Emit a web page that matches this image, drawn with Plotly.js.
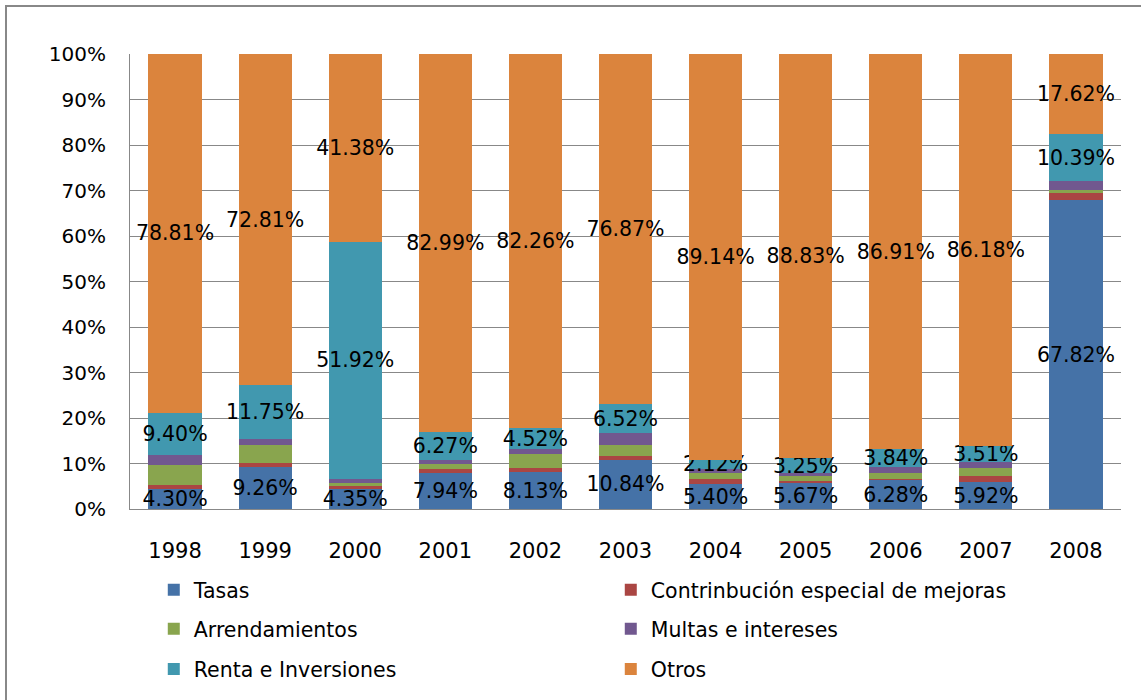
<!DOCTYPE html>
<html>
<head>
<meta charset="utf-8">
<script src="https://cdn.plot.ly/plotly-3.0.1.min.js"></script>
<style>
  body { margin: 0; background: #fff; }
  #chart { position: absolute; left: 0; top: 0; width: 1141px; height: 700px; }
  #frame { position: absolute; left: 5px; top: 5px; width: 1200px; height: 760px;
           border: 2px solid #888; pointer-events: none; }
</style>
</head>
<body>
<div id="chart"></div>
<div id="frame"></div>
<script>
// years and share of each income source (%)
const years = ['1998', '1999', '2000', '2001', '2002', '2003', '2004', '2005', '2006', '2007', '2008'];

const tasas          = [4.30, 9.26, 4.35, 7.94, 8.13, 10.84, 5.40, 5.67, 6.28, 5.92, 67.82];
const contribucion   = [0.90, 0.85, 0.70, 0.80, 0.85, 0.85, 1.25, 0.50, 0.28, 1.33, 1.60];
const arrendamientos = [4.50, 4.00, 0.75, 1.20, 3.10, 2.46, 1.20, 1.05, 1.27, 1.78, 0.80];
const multas         = [2.09, 1.33, 0.90, 0.80, 1.14, 2.46, 0.89, 0.70, 1.42, 1.28, 1.77];
const renta          = [9.40, 11.75, 51.92, 6.27, 4.52, 6.52, 2.12, 3.25, 3.84, 3.51, 10.39];
const otros          = [78.81, 72.81, 41.38, 82.99, 82.26, 76.87, 89.14, 88.83, 86.91, 86.18, 17.62];

const font = 'DejaVu Sans, sans-serif';

function series(name, values, color, legend, labelled) {
    const t = {
        type: 'bar',
        name: name,
        x: years,
        y: values,
        marker: {color: color},
        legend: legend,
        cliponaxis: false,
        hoverinfo: 'skip'
    };
    if (labelled) {
        t.texttemplate = '%{y:.2f}%';
        t.textposition = 'inside';
        t.insidetextanchor = 'middle';
        t.constraintext = 'none';
        t.textangle = 0;
        t.textfont = {family: font, size: 20.5, color: '#000'};
    } else {
        t.textposition = 'none';
    }
    return t;
}

const data = [
    series('Tasas', tasas, '#4572A7', 'legend', true),
    series('Contrinbución especial de mejoras', contribucion, '#AA4643', 'legend', false),
    series('Arrendamientos', arrendamientos, '#89A54E', 'legend2', false),
    series('Multas e intereses', multas, '#71588F', 'legend2', false),
    series('Renta e Inversiones', renta, '#4198AF', 'legend3', true),
    series('Otros', otros, '#DB843D', 'legend3', true)
];

const legendBase = {
    orientation: 'h',
    x: 0.024,
    xanchor: 'left',
    yanchor: 'middle',
    entrywidth: 412,
    entrywidthmode: 'pixels',
    traceorder: 'normal',
    font: {family: font, size: 20.5, color: '#000'},
    bgcolor: 'rgba(0,0,0,0)'
};

const layout = {
    width: 1141,
    height: 700,
    margin: {l: 130, r: 20, t: 54, b: 190},
    barmode: 'stack',
    bargap: 0.41,
    paper_bgcolor: '#fff',
    plot_bgcolor: '#fff',
    font: {family: font, size: 20, color: '#000'},
    showlegend: true,
    xaxis: {
        type: 'category',
        showgrid: false,
        showline: true,
        linecolor: '#888',
        linewidth: 1,
        ticks: '',
        ticklabelstandoff: 23,
        tickfont: {family: font, size: 21, color: '#000'}
    },
    yaxis: {
        range: [0, 100],
        dtick: 10,
        ticksuffix: '%',
        showgrid: true,
        gridcolor: '#888',
        gridwidth: 1,
        zeroline: false,
        showline: true,
        linecolor: '#888',
        linewidth: 1,
        ticks: '',
        ticklabelstandoff: 19,
        tickfont: {family: font, size: 20, color: '#000'}
    },
    legend: Object.assign({}, legendBase, {y: -0.175}),
    legend2: Object.assign({}, legendBase, {y: -0.261}),
    legend3: Object.assign({}, legendBase, {y: -0.349})
};

Plotly.newPlot('chart', data, layout, {displayModeBar: false, staticPlot: true});
</script>
</body>
</html>
